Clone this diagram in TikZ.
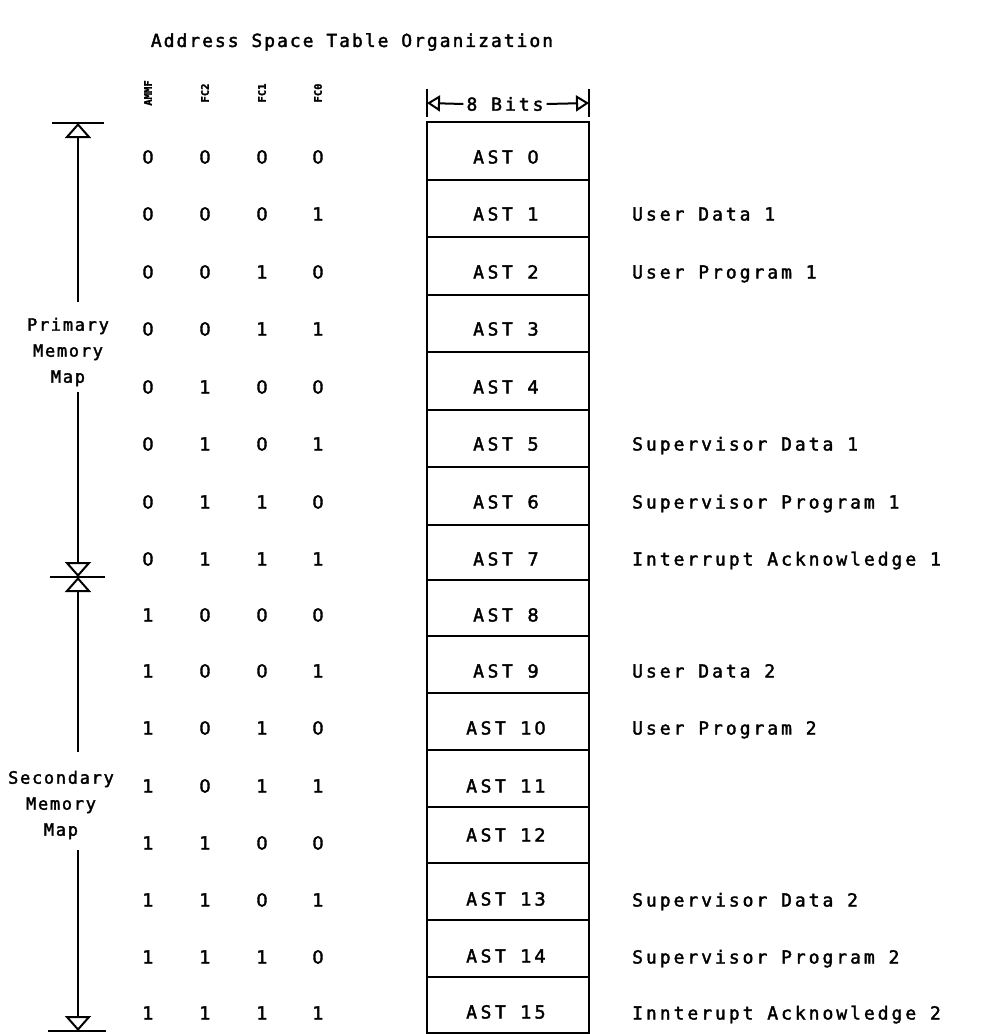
\documentclass[tikz,border=0pt]{standalone}
\usepackage{fontspec}
\setmainfont{DejaVu Sans Mono}
\newfontfamily\lblfont[LetterSpace=16.5,FakeBold=2]{DejaVu Sans Mono}
\newfontfamily\astfont[LetterSpace=20,FakeBold=2]{DejaVu Sans Mono}
\newfontfamily\ttlfont[LetterSpace=11,FakeBold=2]{DejaVu Sans Mono}
\newfontfamily\mapfont[LetterSpace=10,FakeBold=2]{DejaVu Sans Mono}
\newfontfamily\digfont[LetterSpace=14,FakeBold=2]{DejaVu Sans}
\newfontfamily\hdrfont[FakeBold=1.5]{DejaVu Sans Mono Bold}
\usetikzlibrary{arrows.meta}
\tikzset{
  lbl/.style={font=\lblfont\fontsize{18}{20}\selectfont, inner sep=0pt},
  bit/.style={font=\digfont\fontsize{18}{20}\selectfont, inner sep=0pt, anchor=base},
  astlbl/.style={font=\astfont\fontsize{18}{20}\selectfont, inner sep=0pt, anchor=base},
  side/.style={lbl, anchor=base west},
  maplbl/.style={font=\mapfont\fontsize{17}{26}\selectfont, inner sep=0pt, align=center},
  hdr/.style={font=\hdrfont\fontsize{10.5}{11}\selectfont, rotate=90, inner sep=0pt},
  cell/.style={draw, line width=2.2pt, minimum width=162pt, inner sep=0pt},
  mapline/.style={line width=2pt, -{Triangle[open, length=15pt, width=26pt, line width=2pt]}},
  bitline/.style={line width=2pt, -{Triangle[open, length=13pt, width=16pt, line width=2pt]}},
  bar/.style={line width=2.3pt},
}
\begin{document}
\begin{tikzpicture}[x=1pt,y=-1pt]
\useasboundingbox (0,0) rectangle (984,1034);
\fill[white] (0,0) rectangle (984,1034);
% title
\node[font=\ttlfont\fontsize{18}{20}\selectfont, inner sep=0pt] (title) at (352,42) {Address Space Table Organization};
% column headers
\node[hdr] (hA) at (148,93) {AMMF};
\node[hdr] (hB) at (205,93) {FC2};
\node[hdr] (hC) at (262,93) {FC1};
\node[hdr] (hD) at (318,93) {FC0};
% 8 bits header
\coordinate (bl) at (427,103);
\coordinate (br) at (589,103);
\draw[bar] (427,89) -- (427,117);
\draw[bar] (589,89) -- (589,117);
\node[lbl] (bits) at (505,104) {8 Bits};
\draw[bitline] (bits.west) ++(-3,0) -- (bl);
\draw[bitline] (bits.east) ++(3,0) -- (br);
% cells
\foreach \k/\t/\b in {0/122/180,1/180/237,2/237/295,3/295/352,4/352/410,5/410/467,6/467/525,7/525/580,8/580/636,9/636/693,10/693/750,11/750/807,12/807/863,13/863/920,14/920/977,15/977/1033}{
  \node[cell, minimum height={(\b-\t)*1pt}] (cell\k) at (508,{(\t+\b)/2}) {};
}
% rows: index / y of bits / y of AST label / bits
\foreach \k/\y/\z/\a/\b/\c/\d in {0/157/157/0/0/0/0,1/214/214/0/0/0/1,2/272/272/0/0/1/0,3/329/329/0/0/1/1,4/387/387/0/1/0/0,5/444/444/0/1/0/1,6/502/502/0/1/1/0,7/559/559/0/1/1/1,8/615/615/1/0/0/0,9/671/671/1/0/0/1,10/728/728/1/0/1/0,11/786/786/1/0/1/1,12/843/835/1/1/0/0,13/900/899/1/1/0/1,14/957/956/1/1/1/0,15/1013/1012/1/1/1/1}{
  \node[bit] (a\k) at (148,\y+6.5) {\a};
  \node[bit] (b\k) at (205,\y+6.5) {\b};
  \node[bit] (c\k) at (262,\y+6.5) {\c};
  \node[bit] (d\k) at (318,\y+6.5) {\d};
  \node[astlbl] (ast\k) at (506,\z+6.5) {AST {\digfont\k}};
}
\foreach \k/\y/\s in {1/214/User Data 1,2/272/User Program 1,5/444/Supervisor Data 1,6/502/Supervisor Program 1,7/559/Interrupt Acknowledge 1,9/671/User Data 2,10/728/User Program 2,13/900/Supervisor Data 2,14/957/Supervisor Program 2,15/1013/Innterupt Acknowledge 2}{
  \node[side] (s\k) at (632,\y+6.5) {\s};
}
% left memory map arrows
\node[maplbl] (prim) at (68,352) {Primary\\Memory\\Map};
\node[maplbl] (sec) at (61,805) {Secondary\\Memory\\Map};
\coordinate (ptop) at (78,123);
\coordinate (pmid) at (78,577);
\coordinate (pbot) at (78,1031);
\draw[bar] (52,123) -- (104,123);
\draw[bar] (50,577) -- (105,577);
\draw[bar] (48,1031) -- (106,1031);
\draw[mapline] (78,302) -- (ptop);
\draw[mapline] (78,392) -- (pmid);
\draw[mapline] (78,752) -- (pmid);
\draw[mapline] (78,850) -- (pbot);
\end{tikzpicture}
\end{document}
